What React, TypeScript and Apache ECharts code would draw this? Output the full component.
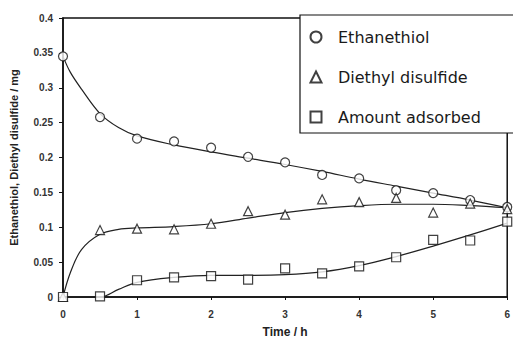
import React, { useEffect, useRef } from "react";
import * as echarts from "echarts";

const times = [0, 0.5, 1, 1.5, 2, 2.5, 3, 3.5, 4, 4.5, 5, 5.5, 6];
const ethanethiol = [0.345, 0.258, 0.227, 0.223, 0.214, 0.201, 0.193, 0.175, 0.17, 0.153, 0.149, 0.139, 0.129];
const disulfide = [0, 0.096, 0.098, 0.097, 0.105, 0.123, 0.118, 0.14, 0.136, 0.142, 0.121, 0.134, 0.126];
const adsorbed = [0, 0.001, 0.024, 0.028, 0.03, 0.025, 0.041, 0.034, 0.044, 0.057, 0.082, 0.081, 0.108];

const fitTimes = [0, 0.1, 0.25, 0.5, 0.75, 1, 1.5, 2, 2.5, 3, 3.5, 4, 4.5, 5, 5.5, 6];
const ethanethiolFit = [0.345, 0.322, 0.298, 0.263, 0.243, 0.231, 0.218, 0.208, 0.199, 0.19, 0.18, 0.169, 0.159, 0.149, 0.139, 0.128];
const disulfideFit = [0, 0.035, 0.068, 0.09, 0.097, 0.099, 0.101, 0.105, 0.113, 0.121, 0.127, 0.131, 0.133, 0.133, 0.131, 0.128];
const adsorbedFit = [0, 0, 0, 0, 0.011, 0.021, 0.028, 0.031, 0.031, 0.032, 0.036, 0.045, 0.058, 0.073, 0.089, 0.106];

const yTicks = [0, 0.05, 0.1, 0.15, 0.2, 0.25, 0.3, 0.35, 0.4];

const pair = (xs: number[], ys: number[]) => xs.map((x, i) => [x, ys[i]]);

export default function App() {
  const ref = useRef<HTMLDivElement>(null);
  useEffect(() => {
    if (!ref.current) return;
    const chart = echarts.init(ref.current, null, { renderer: "svg" });
    const font = "Liberation Sans, Arial, sans-serif";
    const marker = {
      color: "#fff",
      borderColor: "#111",
      borderWidth: 1.2,
    };
    const scatter = (name: string, symbol: string, ys: number[], size: number) => ({
      name,
      type: "scatter",
      symbol,
      symbolSize: size,
      data: pair(times, ys),
      itemStyle: marker,
      z: 5,
    });
    const fit = (ys: number[]) => ({
      type: "line",
      smooth: 0.35,
      showSymbol: false,
      symbol: "none",
      data: pair(fitTimes, ys),
      lineStyle: { color: "#222", width: 1.2 },
      silent: true,
      z: 3,
    });
    chart.setOption({
      animation: false,
      backgroundColor: "#fff",
      grid: {
        left: 62,
        right: 3,
        top: 18,
        bottom: 43,
        show: true,
        borderColor: "#111",
        borderWidth: 1.5,
      },
      legend: {
        orient: "vertical",
        left: 300,
        top: 15,
        padding: [13, 34, 7, 9.5],
        itemGap: 22,
        itemWidth: 11,
        itemHeight: 11,
        borderColor: "#111",
        borderWidth: 1.2,
        backgroundColor: "#fff",
        textStyle: {
          fontFamily: "DejaVu Sans, sans-serif",
          fontSize: 16,
          lineHeight: 18,
          color: "#1a1a1a",
          padding: [0, 0, 0, 11.5],
        },
        data: ["Ethanethiol", "Diethyl disulfide", "Amount adsorbed"],
      },
      xAxis: {
        type: "value",
        min: 0,
        max: 6,
        interval: 1,
        name: "Time / h",
        nameLocation: "middle",
        nameGap: 29,
        nameTextStyle: { fontFamily: font, fontSize: 12, fontWeight: "bold", color: "#222" },
        axisLine: { lineStyle: { color: "#111", width: 1.5 } },
        axisTick: { show: true, length: 3, lineStyle: { color: "#111" } },
        axisLabel: {
          fontFamily: font,
          fontSize: 10,
          fontWeight: "bold",
          color: "#333",
          margin: 12,
          showMaxLabel: true,
          showMinLabel: true,
        },
        splitLine: { show: false },
      },
      yAxis: {
        type: "value",
        min: 0,
        max: 0.4,
        interval: 0.05,
        name: "Ethanethiol, Diethyl disulfide / mg",
        nameLocation: "middle",
        nameGap: 44,
        nameTextStyle: { fontFamily: font, fontSize: 11, fontWeight: "bold", color: "#222" },
        axisLine: { lineStyle: { color: "#111", width: 1.5 } },
        axisTick: { show: true, length: 4, lineStyle: { color: "#111" } },
        axisLabel: {
          fontFamily: font,
          fontSize: 10,
          fontWeight: "bold",
          color: "#333",
          margin: 10,
          formatter: (v: number) => {
            const t = yTicks.find((k) => Math.abs(k - v) < 1e-9);
            return String(t !== undefined ? t : +v.toFixed(2));
          },
        },
        splitLine: { show: false },
      },
      series: [
        fit(ethanethiolFit),
        fit(disulfideFit),
        fit(adsorbedFit),
        scatter("Ethanethiol", "circle", ethanethiol, 9),
        scatter("Diethyl disulfide", "triangle", disulfide, 9),
        scatter("Amount adsorbed", "rect", adsorbed, 9),
      ],
    });
    return () => chart.dispose();
  }, []);
  return (
    <div
      ref={ref}
      style={{ position: "fixed", left: 0, top: 0, width: 513, height: 343 }}
    />
  );
}
